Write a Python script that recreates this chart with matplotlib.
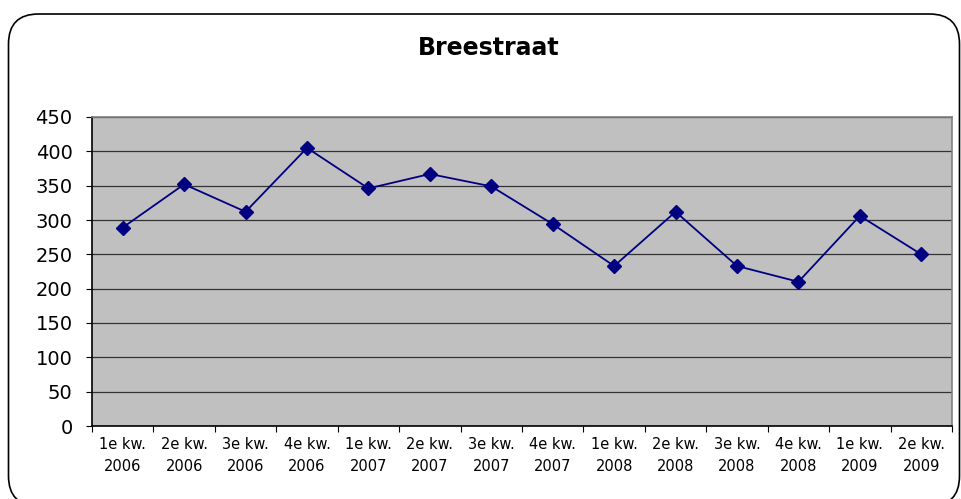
import matplotlib
matplotlib.use("Agg")
import matplotlib.pyplot as plt
from matplotlib.patches import FancyBboxPatch

categories = ["1e kw.\n2006", "2e kw.\n2006", "3e kw.\n2006", "4e kw.\n2006",
              "1e kw.\n2007", "2e kw.\n2007", "3e kw.\n2007", "4e kw.\n2007",
              "1e kw.\n2008", "2e kw.\n2008", "3e kw.\n2008", "4e kw.\n2008",
              "1e kw.\n2009", "2e kw.\n2009"]
values = [289, 352, 312, 405, 346, 367, 349, 294, 233, 312, 233, 210, 306, 250]
yticks = list(range(0, 451, 50))

plt.rcParams['font.family'] = ['DejaVu Sans']

W, H = 961, 499
fig = plt.figure(figsize=(W / 100, H / 100), dpi=100)

# rounded frame (display pixel coordinates, origin bottom-left)
frame = FancyBboxPatch((8.5, -7), 951, 492,
                       boxstyle="round,pad=0,rounding_size=30",
                       transform=None, fill=False,
                       edgecolor="black", linewidth=1.2)
fig.patches.append(frame)

ax = fig.add_axes([92 / W, 1 - 426 / H, (952 - 92) / W, (426 - 117) / H])
ax.set_facecolor("#C0C0C0")
x = list(range(len(values)))
ax.plot(x, values, color="#000080", linewidth=1.3, marker="D", markersize=7.5,
        markerfacecolor="#000080", markeredgecolor="#000080", zorder=3)

ax.set_xlim(-0.5, len(values) - 0.5)
ax.set_ylim(0, 450)
ax.set_yticks(yticks)
ax.set_yticklabels([str(v) for v in yticks], fontsize=14)
ax.yaxis.grid(True, color="#333333", linewidth=0.9)
ax.set_axisbelow(True)

ax.set_xticks([i - 0.5 for i in range(len(values) + 1)])
ax.set_xticklabels([])
ax.set_xticks(x, minor=True)
ax.set_xticklabels(categories, minor=True, fontsize=10.5, linespacing=1.6)
ax.tick_params(axis="x", which="minor", length=0, pad=8)
ax.tick_params(axis="x", which="major", direction="out", length=4, color="black")
ax.tick_params(axis="y", direction="out", length=4.5, color="black", pad=9.5)

ax.spines["left"].set_color("black")
ax.spines["bottom"].set_color("black")
ax.spines["top"].set_color("#808080")
ax.spines["right"].set_color("#808080")
for s in ax.spines.values():
    s.set_linewidth(1.2)

fig.text(489 / W, 1 - 48 / H, "Breestraat", ha="center", va="center",
         fontsize=17, fontweight="bold")

fig.savefig("out.png", dpi=100)
